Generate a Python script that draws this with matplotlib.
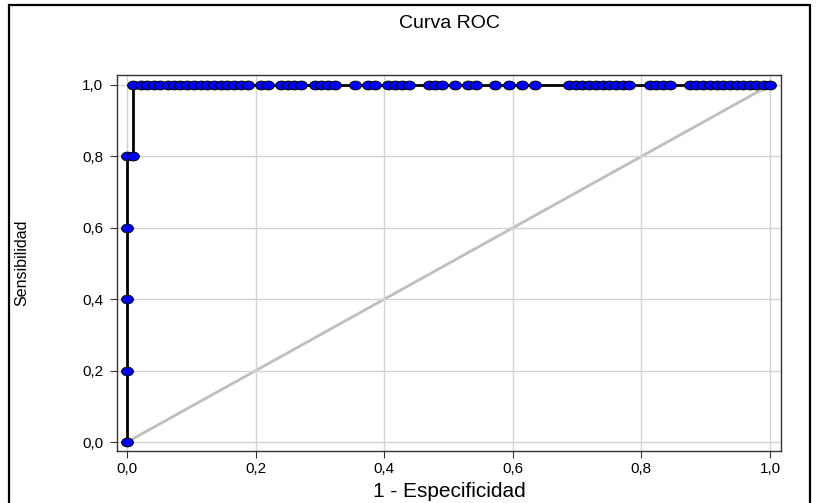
import matplotlib
matplotlib.use("Agg")
import matplotlib.pyplot as plt
from matplotlib.path import Path
from matplotlib.transforms import Affine2D
from matplotlib.patches import Rectangle

# Puntos de la curva ROC (1 - especificidad, sensibilidad)
fpr = [0.0, 0.0, 0.0, 0.0, 0.0, 0.010, 0.010,
       0.021, 0.031, 0.042, 0.052, 0.063, 0.073, 0.083, 0.094, 0.104, 0.115,
       0.125, 0.135, 0.146, 0.156, 0.167, 0.177, 0.188, 0.208, 0.219, 0.240,
       0.250, 0.260, 0.271, 0.292, 0.302, 0.313, 0.323, 0.354, 0.375, 0.385,
       0.406, 0.417, 0.427, 0.438, 0.469, 0.479, 0.490, 0.510, 0.531, 0.542,
       0.573, 0.594, 0.615, 0.635, 0.688, 0.698, 0.708, 0.719, 0.729, 0.740,
       0.750, 0.760, 0.771, 0.781, 0.813, 0.823, 0.833, 0.844, 0.875, 0.885,
       0.896, 0.906, 0.917, 0.927, 0.938, 0.948, 0.958, 0.969, 0.979, 0.990,
       1.0]
tpr = [0.0, 0.2, 0.4, 0.6, 0.8, 0.8] + [1.0] * (len(fpr) - 6)

ticks = [0.0, 0.2, 0.4, 0.6, 0.8, 1.0]
tick_labels = ["0,0", "0,2", "0,4", "0,6", "0,8", "1,0"]

plt.rcParams['font.family'] = ['Liberation Sans', 'DejaVu Sans']

fig = plt.figure(figsize=(8.16, 5.03), dpi=100)
ax = fig.add_axes([0.1434, 0.1034, 0.8136, 0.7475])

# marcador ovalado, mas ancho que alto
oval = Path.unit_circle().transformed(Affine2D().scale(1.35, 1.0))

ax.grid(True, color="#d3d3d3", linewidth=1.0, zorder=0)
ax.plot([0, 1], [0, 1], color="#bebebe", linewidth=2.0, zorder=1)
ax.plot(fpr, tpr, color="black", linewidth=2.0, zorder=2)
ax.plot(fpr, tpr, linestyle="none", marker=oval, markersize=8.5,
        markerfacecolor="#0000ff", markeredgecolor="black",
        markeredgewidth=0.7, zorder=3)

ax.set_xlim(-0.0156, 1.017)
ax.set_ylim(-0.025, 1.028)
ax.set_xticks(ticks)
ax.set_xticklabels(tick_labels)
ax.set_yticks(ticks)
ax.set_yticklabels(tick_labels)
ax.tick_params(axis="both", labelsize=11, length=5, width=0.8,
               color="#333333", pad=5)
ax.tick_params(axis="x", pad=3)
for s in ax.spines.values():
    s.set_color("#333333")
    s.set_linewidth(1.0)

ax.set_title("Curva ROC", fontsize=14, pad=34)
ax.set_xlabel("1 - Especificidad", fontsize=15, labelpad=4)
ax.set_ylabel("Sensibilidad", fontsize=11.5, labelpad=38)

# marco exterior del grafico
fig.patches.append(Rectangle((0.011, -0.05), 0.982, 1.04,
                             transform=fig.transFigure, fill=False,
                             edgecolor="black", linewidth=1.6))

fig.savefig("out.png", dpi=100)
